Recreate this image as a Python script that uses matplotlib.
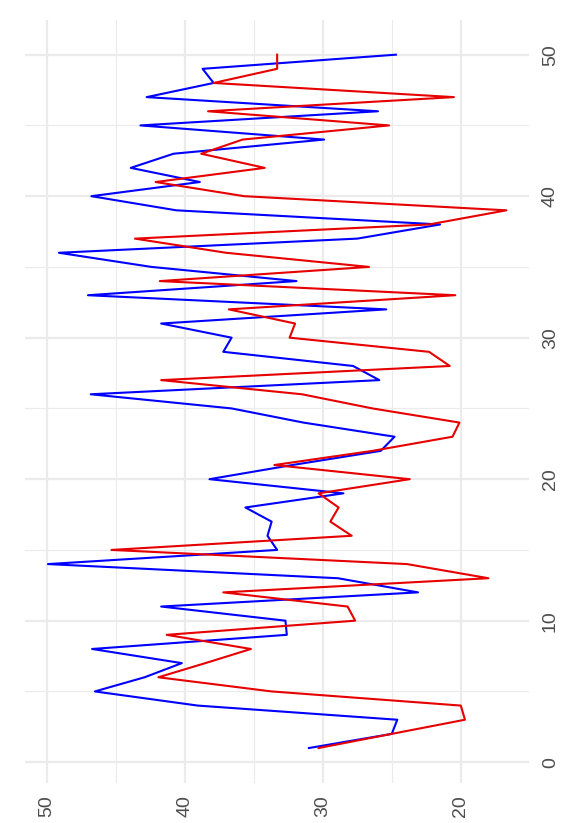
import matplotlib
matplotlib.use("Agg")
import matplotlib.pyplot as plt

# Datos (indice 1..50, dos series)
indices = list(range(1, 51))

serie_azul = [31.0, 25.0, 24.6, 39.05, 46.5, 42.9, 40.2, 46.7, 32.6, 32.7,
              41.7, 23.1, 28.9, 49.9, 33.3, 34.0, 33.7, 35.6, 28.5, 38.2,
              32.2, 25.8, 24.8, 31.4, 36.6, 46.8, 25.9, 27.8, 37.2, 36.6,
              41.7, 25.4, 47.0, 31.9, 42.4, 49.1, 27.5, 21.5, 40.6, 46.75,
              38.9, 43.9, 40.8, 29.9, 43.2, 26.0, 42.75, 37.9, 38.7, 24.7]

serie_roja = [30.3, 25.0, 19.7, 20.0, 33.7, 41.9, 38.5, 35.2, 41.3, 27.65,
              28.2, 37.2, 18.0, 23.9, 45.3, 27.9, 29.45, 28.85, 30.3, 23.7,
              33.5, 26.4, 20.6, 20.1, 26.4, 31.5, 41.7, 20.8, 22.3, 32.4,
              32.0, 36.8, 20.4, 41.8, 26.65, 37.0, 43.6, 22.3, 16.7, 35.7,
              42.1, 34.2, 38.8, 35.8, 25.2, 38.3, 20.5, 37.9, 33.3, 33.3]

ticks_indice = [0, 10, 20, 30, 40, 50]
ticks_indice_menor = [5, 15, 25, 35, 45]
ticks_valor = [20, 30, 40, 50]
ticks_valor_menor = [25, 35, 45]

plt.rcParams['font.family'] = ['Liberation Sans', 'DejaVu Sans']

fig = plt.figure(figsize=(5.82, 8.23), dpi=100)
ax = fig.add_axes([25 / 582, 1 - 782.7 / 823, (529.3 - 25) / 582, (782.7 - 20) / 823])

# Las series se dibujan giradas: el valor va en horizontal, el indice en vertical
ax.plot(serie_azul, indices, color="#0000FF", lw=1.5)
ax.plot(serie_roja, indices, color="#E60000", lw=1.5)

# Limites con la expansion del 5% como en ggplot
todos = serie_azul + serie_roja
rango_v = max(todos) - min(todos)
ax.set_xlim(max(todos) + 0.05 * rango_v, min(todos) - 0.05 * rango_v)
rango_i = max(indices) - min(indices)
ax.set_ylim(min(indices) - 0.05 * rango_i, max(indices) + 0.05 * rango_i)

ax.set_xticks(ticks_valor)
ax.set_xticks(ticks_valor_menor, minor=True)
ax.set_yticks(ticks_indice)
ax.set_yticks(ticks_indice_menor, minor=True)

ax.set_axisbelow(True)
ax.grid(which='major', color='#EBEBEB', lw=1.6)
ax.grid(which='minor', color='#EBEBEB', lw=0.8)

for spine in ax.spines.values():
    spine.set_visible(False)

ax.yaxis.tick_right()
ax.tick_params(which='both', length=0)
ax.tick_params(axis='x', pad=9, labelsize=14, labelcolor='#4D4D4D', labelrotation=90)
ax.tick_params(axis='y', pad=9, labelsize=14, labelcolor='#4D4D4D', labelrotation=90)
for lbl in ax.get_yticklabels():
    lbl.set_verticalalignment('center')

fig.savefig("out.png", dpi=100)
